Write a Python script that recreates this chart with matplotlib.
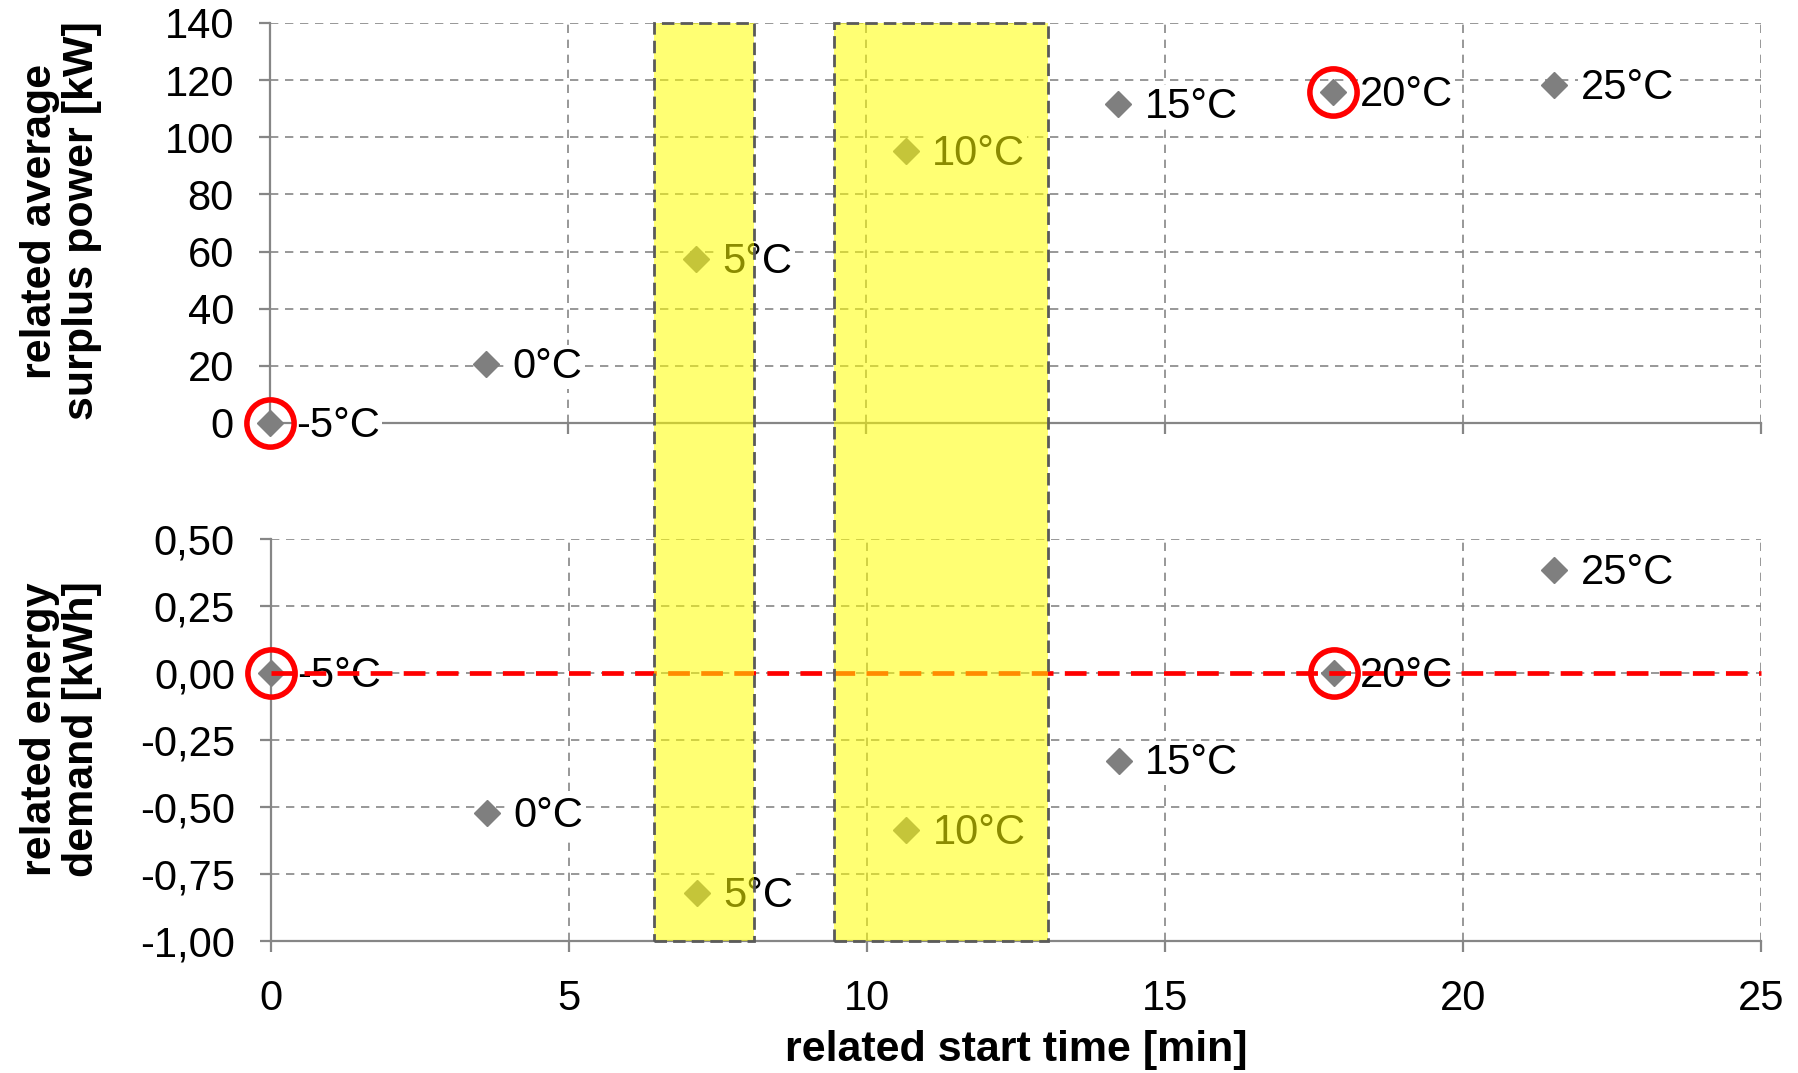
import matplotlib
matplotlib.use("Agg")
import matplotlib.pyplot as plt
from matplotlib.patches import Rectangle
from matplotlib.transforms import blended_transform_factory

plt.rcParams['font.family'] = ['Liberation Sans', 'DejaVu Sans']

# Outside temperature cases and their results
temps = ["-5°C", "0°C", "5°C", "10°C", "15°C", "20°C", "25°C"]
start_time = [0.0, 3.62, 7.14, 10.66, 14.22, 17.83, 21.53]      # min
surplus_power = [0.0, 20.5, 57.4, 95.1, 111.5, 115.9, 118.3]     # kW
energy_demand = [0.0, -0.524, -0.82, -0.585, -0.327, 0.0, 0.383]  # kWh
circled = [0, 5]                       # reference cases (-5°C and 20°C)
windows = [(6.42, 8.11), (9.45, 13.03)]  # highlighted start time windows

power_ticks = [0, 20, 40, 60, 80, 100, 120, 140]
energy_ticks = [-1.0, -0.75, -0.5, -0.25, 0.0, 0.25, 0.5]
time_ticks = [0, 5, 10, 15, 20, 25]

W, H = 1798, 1073
GRAY = "#868686"
MARK = "#7f7f7f"
FS = 30
LFS = 31

fig = plt.figure(figsize=(W / 100, H / 100), dpi=100)
ax1 = fig.add_axes([270 / W, 1 - 423 / H, 1491 / W, 400 / H])
ax2 = fig.add_axes([271 / W, 1 - 941 / H, 1490 / W, 402 / H])


def style(ax, yticks, ylim, ylabels):
    ax.set_xlim(0, 25)
    ax.set_ylim(*ylim)
    ax.set_xticks(time_ticks)
    ax.set_yticks(yticks)
    ax.set_yticklabels(ylabels, fontsize=FS)
    for s in ("top", "right"):
        ax.spines[s].set_visible(False)
    for s in ("left", "bottom"):
        ax.spines[s].set_color(GRAY)
        ax.spines[s].set_linewidth(1.6)
        ax.spines[s].set_zorder(1.5)
    ax.tick_params(axis="both", direction="out", length=8, width=1.6,
                   color=GRAY)
    ax.tick_params(axis="y", pad=18)
    ax.tick_params(axis="x", pad=19, labelsize=FS)
    ax.grid(True, color=GRAY, linewidth=1.2, linestyle=(0, (5, 4)), zorder=1)
    ax.set_axisbelow(True)


style(ax1, power_ticks, (0, 140), [str(v) for v in power_ticks])
style(ax2, energy_ticks, (-1.0, 0.5),
      [f"{v:.2f}".replace(".", ",") for v in energy_ticks])
ax1.tick_params(axis="x", labelbottom=False)


def draw_points(ax, yvals):
    ax.plot(start_time, yvals, linestyle="none", marker="D", markersize=13,
            color=MARK, zorder=3, clip_on=False)
    for t, x, y in zip(temps, start_time, yvals):
        ax.annotate(t, (x, y), xytext=(19, -2), textcoords="offset points",
                    ha="left", va="center", fontsize=FS, zorder=4,
                    bbox=dict(boxstyle="square,pad=0.05", fc="white",
                              ec="none"))
    ax.plot([start_time[i] for i in circled], [yvals[i] for i in circled],
            linestyle="none", marker="o", markersize=34, markerfacecolor="none",
            markeredgecolor="#ff0000", markeredgewidth=4.0, zorder=6,
            clip_on=False)


draw_points(ax1, surplus_power)
draw_points(ax2, energy_demand)

# zero line of the energy demand
ax2.plot([0, 25], [0, 0], color="#ff0000", linewidth=3.4,
         linestyle=(0, (4.6, 2.4)), zorder=5, clip_on=False)

# highlighted start time windows spanning both panels
y_bot = ax2.get_position().y0
y_top = ax1.get_position().y1
trans = blended_transform_factory(ax2.transData, fig.transFigure)
for x0, x1 in windows:
    fig.add_artist(Rectangle((x0, y_bot), x1 - x0, y_top - y_bot,
                             transform=trans, facecolor="#ffff00", alpha=0.55,
                             edgecolor="none", zorder=10))
    fig.add_artist(Rectangle((x0, y_bot), x1 - x0, y_top - y_bot,
                             transform=trans, facecolor="none",
                             edgecolor="#5a5a5a", linewidth=2.0,
                             linestyle=(0, (4.5, 2.2)), zorder=11))

fig.text(61 / W, 1 - 221 / H, "related average\nsurplus power [kW]",
         rotation=90, ha="center", va="center", fontsize=LFS,
         fontweight="bold", linespacing=1.05)
fig.text(61 / W, 1 - 729 / H, "related energy\ndemand [kWh]",
         rotation=90, ha="center", va="center", fontsize=LFS,
         fontweight="bold", linespacing=1.05)
fig.text(1016 / W, 1 - 1050 / H, "related start time [min]",
         ha="center", va="center", fontsize=LFS, fontweight="bold")

fig.savefig("out.png", dpi=100, facecolor="white")
